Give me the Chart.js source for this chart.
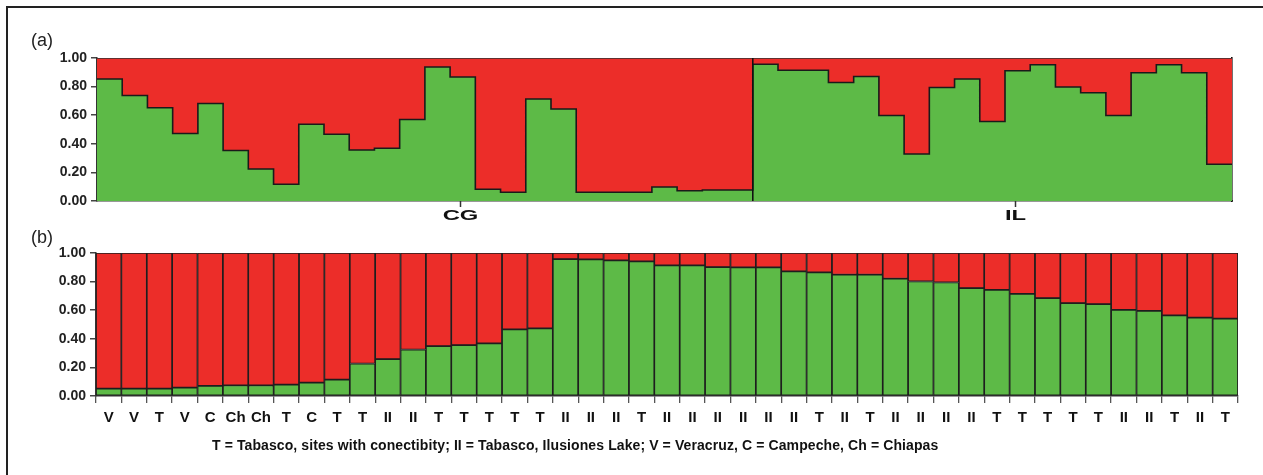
<!DOCTYPE html>
<html><head><meta charset="utf-8">
<script src="https://cdn.jsdelivr.net/npm/chart.js@4.4.1/dist/chart.umd.min.js"></script>
<style>
html,body{margin:0;padding:0;background:#fff;}
#wrap{position:relative;width:1263px;height:475px;overflow:hidden;background:#fff;font-family:"Liberation Sans",Arial,sans-serif;}
#frame{position:absolute;left:6px;top:6px;width:1300px;height:500px;border-top:2px solid #222;border-left:2px solid #222;}
canvas{position:absolute;left:0;}
#ca{top:0;}
#cb{top:230px;}
.lab{position:absolute;font-size:18px;color:#222;line-height:18px;}
#note{position:absolute;left:212px;top:437px;font-weight:bold;font-size:14px;letter-spacing:0.1px;color:#111;white-space:nowrap;line-height:16px;}
</style></head>
<body>
<div id="wrap">
  <div id="frame"></div>
  <canvas id="ca" width="1263" height="230"></canvas>
  <canvas id="cb" width="1263" height="245"></canvas>
  <div class="lab" style="left:31px;top:31px;">(a)</div>
  <div class="lab" style="left:31px;top:228px;">(b)</div>
  <div id="note">T = Tabasco, sites with conectibity; II = Tabasco, Ilusiones Lake; V = Veracruz, C = Campeche, Ch = Chiapas</div>
</div>
<script>
// ---------- data ----------
const yTicks = [0, 0.2, 0.4, 0.6, 0.8, 1.0];

// Panel (a): individuals ordered by group (CG then IL), membership in green cluster
const groupLabels = ['CG', 'IL'];
const groupTickPos = [14.4, 36.4];
const groupBreak = 26;
const greenA = [0.853,0.738,0.652,0.472,0.682,0.353,0.224,0.117,0.537,0.467,0.357,0.369,0.570,
                0.937,0.867,0.082,0.061,0.713,0.643,0.061,0.061,0.061,0.098,0.072,0.077,0.077,
                0.956,0.914,0.914,0.829,0.871,0.598,0.329,0.794,0.853,0.556,0.911,0.953,0.797,
                0.757,0.598,0.897,0.953,0.897,0.257];

// Panel (b): individuals sorted by membership
const labelsB = ['V','V','T','V','C','Ch','Ch','T','C','T','T','II','II','T','T','T','T','T',
                 'II','II','II','T','II','II','II','II','II','II','T','II','T','II','II','II','II',
                 'T','T','T','T','T','II','II','T','II','T'];
const greenB = [0.052,0.052,0.052,0.059,0.070,0.075,0.075,0.080,0.094,0.115,0.227,0.258,0.325,
                0.349,0.356,0.368,0.466,0.473,0.958,0.955,0.948,0.941,0.913,0.913,0.902,0.899,
                0.899,0.871,0.864,0.848,0.848,0.820,0.801,0.794,0.754,0.742,0.714,0.684,0.649,
                0.642,0.602,0.595,0.564,0.548,0.541];

// ---------- style ----------
const GREEN = '#5dba47';
const RED = '#ec2d29';
const DARK = '#222';
const FONT = '"Liberation Sans", Arial, sans-serif';

const redA = greenA.map(v => +(1 - v).toFixed(3));
const redB = greenB.map(v => +(1 - v).toFixed(3));
const stepPts = arr => arr.map((v, i) => ({x: i, y: v})).concat([{x: arr.length, y: arr[arr.length - 1]}]);

const yAxisCommon = (w) => ({
  stacked: true, min: 0, max: 1,
  afterBuildTicks: s => { s.ticks = yTicks.map(v => ({value: v})); },
  ticks: {callback: v => Number(v).toFixed(2), font: {family: FONT, size: 14, weight: 'bold'}, color: DARK, padding: 4},
  grid: {display: true, drawOnChartArea: false, drawTicks: true, tickLength: 6, tickColor: '#444', lineWidth: 1.5},
  border: {display: true, color: '#333', width: 1.5},
  afterFit: s => { s.width = w; }
});

const groupLabelPlugin = {
  id: 'groupLabels',
  afterDraw(chart) {
    const ctx = chart.ctx, xs = chart.scales.x;
    ctx.save();
    ctx.strokeStyle = '#333';
    ctx.lineWidth = 1.5;
    ctx.font = 'bold 14px ' + FONT;
    ctx.fillStyle = '#111';
    ctx.textAlign = 'center';
    ctx.textBaseline = 'middle';
    groupLabels.forEach((lab, i) => {
      const px = Math.round(xs.getPixelForValue(groupTickPos[i])) + 0.5;
      ctx.beginPath();
      ctx.moveTo(px, xs.top);
      ctx.lineTo(px, xs.top + 6);
      ctx.stroke();
      ctx.save();
      ctx.translate(px, xs.top + 15);
      ctx.scale(1.7, 1);
      ctx.fillText(lab, 0, 0);
      ctx.restore();
    });
    ctx.restore();
  }
};

new Chart(document.getElementById('ca'), {
  type: 'line',
  data: {
    datasets: [
      {label: 'cluster 2', data: stepPts(greenA), stepped: true, fill: 'origin', backgroundColor: GREEN,
       borderColor: '#1a1a1a', borderWidth: 1.6, pointRadius: 0, order: 1, stack: 'q'},
      {label: 'cluster 1', data: stepPts(redA), stepped: true, fill: '-1', backgroundColor: RED,
       borderColor: '#333', borderWidth: 1.5, pointRadius: 0, order: 2, stack: 'q'},
      {label: 'divider', data: [{x: groupBreak, y: 0}, {x: groupBreak, y: 1}], borderColor: '#111',
       borderWidth: 1.6, pointRadius: 0, fill: false, order: 0, stack: 'div'}
    ]
  },
  options: {
    responsive: false, animation: false, devicePixelRatio: 1,
    layout: {padding: {top: 58, right: 31, left: 0, bottom: 0}},
    plugins: {legend: {display: false}, tooltip: {enabled: false}},
    scales: {
      x: {type: 'linear', min: 0, max: greenA.length,
          afterBuildTicks: s => { s.ticks = groupTickPos.map(v => ({value: v})); },
          ticks: {display: false},
          grid: {display: false},
          border: {display: true, color: '#333', width: 1.5},
          afterFit: s => { s.height = 29; }},
      y: yAxisCommon(97),
      yR: {position: 'right', min: 0, max: 1, ticks: {display: false}, grid: {display: false},
           border: {display: true, color: '#111', width: 1.6}, afterFit: s => { s.width = 0; }}
    }
  },
  plugins: [groupLabelPlugin]
});

new Chart(document.getElementById('cb'), {
  type: 'bar',
  data: {
    labels: labelsB,
    datasets: [
      {label: 'cluster 2', data: greenB, backgroundColor: GREEN, borderColor: '#1e1e1e', borderWidth: 1.2,
       borderSkipped: false, barPercentage: 1, categoryPercentage: 1, stack: 'q'},
      {label: 'cluster 1', data: redB, backgroundColor: RED, borderColor: '#1e1e1e', borderWidth: 1.2,
       borderSkipped: false, barPercentage: 1, categoryPercentage: 1, stack: 'q'}
    ]
  },
  options: {
    responsive: false, animation: false, devicePixelRatio: 1,
    layout: {padding: {top: 23, right: 25, left: 0, bottom: 0}},
    plugins: {legend: {display: false}, tooltip: {enabled: false}},
    scales: {
      x: {stacked: true,
          ticks: {font: {family: FONT, size: 15, weight: 'bold'}, color: '#111', padding: 6, maxRotation: 0, autoSkip: false},
          grid: {display: true, drawOnChartArea: false, drawTicks: true, tickLength: 7, tickColor: '#555', lineWidth: 1.3},
          border: {display: true, color: '#333', width: 1.5},
          afterFit: s => { s.height = 79; }},
      y: yAxisCommon(96)
    }
  }
});
</script>
</body></html>
